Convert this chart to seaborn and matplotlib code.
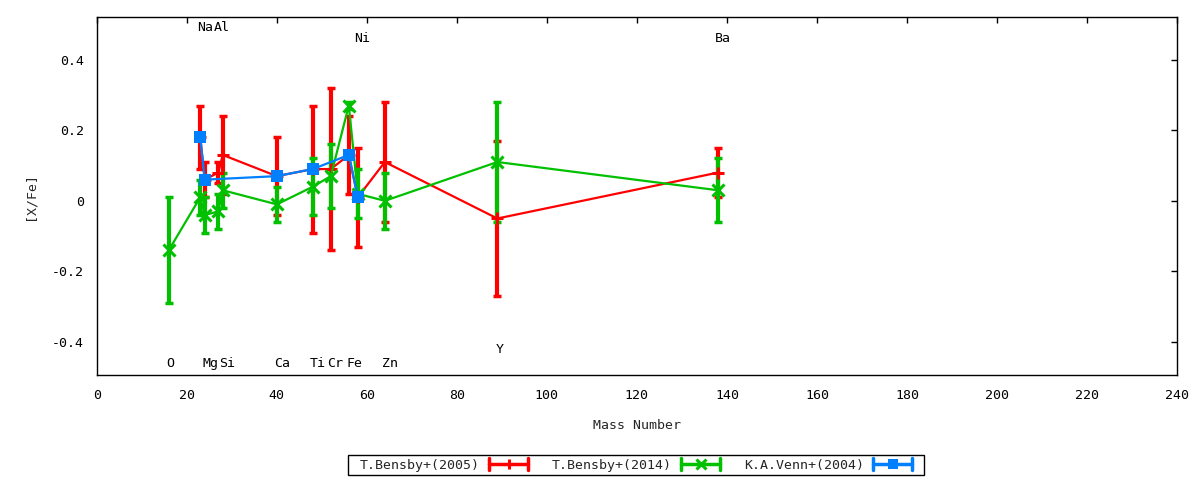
import numpy as np
import pandas as pd
import matplotlib
matplotlib.use("Agg")
import matplotlib.pyplot as plt
import seaborn as sns
from matplotlib.lines import Line2D
from matplotlib.legend_handler import HandlerBase
from matplotlib.path import Path

# ---------------- data ----------------
b05_mass = [23, 24, 27, 28, 40, 48, 52, 56, 58, 64, 89, 138]
b05_val = [0.18, 0.06, 0.08, 0.13, 0.07, 0.09, 0.09, 0.13, 0.01, 0.11, -0.05, 0.08]
b05_err = [0.09, 0.05, 0.03, 0.11, 0.11, 0.18, 0.23, 0.11, 0.14, 0.17, 0.22, 0.07]

b14_mass = [16, 23, 24, 27, 28, 40, 48, 52, 56, 58, 64, 89, 138]
b14_val = [-0.14, 0.01, -0.04, -0.03, 0.03, -0.01, 0.04, 0.07, 0.27, 0.02, 0.00, 0.11, 0.03]
b14_err = [0.15, 0.05, 0.05, 0.05, 0.05, 0.05, 0.08, 0.09, 0.01, 0.07, 0.08, 0.17, 0.09]

v04_mass = [23, 24, 40, 48, 56, 58]
v04_val = [0.18, 0.06, 0.07, 0.09, 0.13, 0.01]
v04_err = [0.0, 0.0, 0.0, 0.0, 0.0, 0.0]

series_names = ["T.Bensby+(2005)", "T.Bensby+(2014)", "K.A.Venn+(2004)"]

elem_names = ["O", "Na", "Mg", "Al", "Si", "Ca", "Ti", "Cr", "Fe", "Ni", "Zn", "Y", "Ba"]
elem_label_x = [16.3, 24.1, 25.2, 27.8, 28.9, 41.2, 49.2, 52.9, 57.3, 58.9, 65.2, 89.6, 139.1]
elem_label_y = [-0.46, 0.49, -0.46, 0.49, -0.46, -0.46, -0.46, -0.46, -0.46, 0.46, -0.46, -0.42, 0.46]

x_ticks = [0, 20, 40, 60, 80, 100, 120, 140, 160, 180, 200, 220, 240]
y_ticks = [-0.4, -0.2, 0.0, 0.2, 0.4]
y_ticklabels = ["-0.4", "-0.2", "0", "0.2", "0.4"]

# ---------------- style ----------------
sns.set_style("white")
plt.rcParams["font.family"] = ["DejaVu Sans Mono", "DejaVu Sans"]
plt.rcParams["font.size"] = 9.5

colors = ["#ff0000", "#00c000", "#0080ff"]
markers = ["+", "x", "s"]
msizes = [8, 8, 8]

fig = plt.figure(figsize=(12, 4.8), dpi=100)
ax = fig.add_axes([0.0806, 0.219, 0.9003, 0.745])

datasets = [(b05_mass, b05_val, b05_err), (b14_mass, b14_val, b14_err), (v04_mass, v04_val, v04_err)]

for (m, v, e), name, c, mk, ms in zip(datasets, series_names, colors, markers, msizes):
    df = pd.DataFrame({"mass": m, "val": v, "err": e})
    ax.errorbar(df["mass"], df["val"], yerr=df["err"], fmt="none", ecolor=c,
                elinewidth=3.0, capsize=2.9, capthick=2.5, zorder=2)
    sns.lineplot(data=df, x="mass", y="val", sort=False, color=c, linewidth=1.6,
                 marker=mk, markersize=ms, markeredgewidth=2.2 if mk != "s" else 0,
                 markerfacecolor=c, markeredgecolor=c, ax=ax, zorder=3, legend=False)

for t, lx, ly in zip(elem_names, elem_label_x, elem_label_y):
    ax.text(lx, ly, t, ha="center", va="center", fontsize=9.5, color="black")

ax.set_xlim(0, 240)
ax.set_ylim(-0.493, 0.52)
ax.set_xticks(x_ticks)
ax.set_xticklabels([str(t) for t in x_ticks])
ax.set_yticks(y_ticks)
ax.set_yticklabels(y_ticklabels)
ax.tick_params(axis="x", pad=10.5)
ax.tick_params(axis="y", pad=9)
ax.tick_params(direction="in", top=True, right=True, length=4, width=1,
               labelsize=9.5, colors="black")
ax.set_xlabel("Mass Number", fontsize=9.5, labelpad=12)
ax.set_ylabel("[X/Fe]", fontsize=9.5, labelpad=11)
for s in ax.spines.values():
    s.set_color("black")
    s.set_linewidth(1.0)
    s.set_visible(True)
ax.grid(False)


class GnuHandler(HandlerBase):
    def create_artists(self, legend, orig_handle, xdescent, ydescent, width, height, fontsize, trans):
        c = orig_handle.get_color()
        mk = orig_handle.get_marker()
        y = height / 2 - ydescent
        x0 = -xdescent
        x1 = x0 + width
        h = 4.0
        arts = [
            Line2D([x0, x1], [y, y], color=c, lw=2.5),
            Line2D([x0, x0], [y - h, y + h], color=c, lw=2.5),
            Line2D([x1, x1], [y - h, y + h], color=c, lw=2.5),
            Line2D([(x0 + x1) / 2], [y], color=c, marker=mk, markersize=7,
                   markeredgewidth=2.2 if mk != "s" else 0, markerfacecolor=c, markeredgecolor=c),
        ]
        for a in arts:
            a.set_transform(trans)
        return arts


def hpad_box(x0, y0, width, height, mutation_size):
    p = 0.65 * mutation_size
    x0 = x0 - p
    width = width + 2 * p
    verts = [(x0, y0), (x0 + width, y0), (x0 + width, y0 + height), (x0, y0 + height), (x0, y0)]
    return Path(verts, [Path.MOVETO, Path.LINETO, Path.LINETO, Path.LINETO, Path.CLOSEPOLY])


handles = [Line2D([], [], color=c, marker=mk) for c, mk in zip(colors, markers)]
leg = fig.legend(handles, series_names, loc="center", bbox_to_anchor=(0.53, 0.031), ncol=3,
                 markerfirst=False, frameon=True, fancybox=False, edgecolor="black",
                 framealpha=1, handlelength=2.95, handletextpad=0.7, columnspacing=1.8,
                 borderpad=0.25, fontsize=9.5,
                 handler_map={Line2D: GnuHandler()})
leg.get_frame().set_linewidth(1.0)
leg.get_frame().set_boxstyle(hpad_box)

fig.savefig("out.png", dpi=100)
